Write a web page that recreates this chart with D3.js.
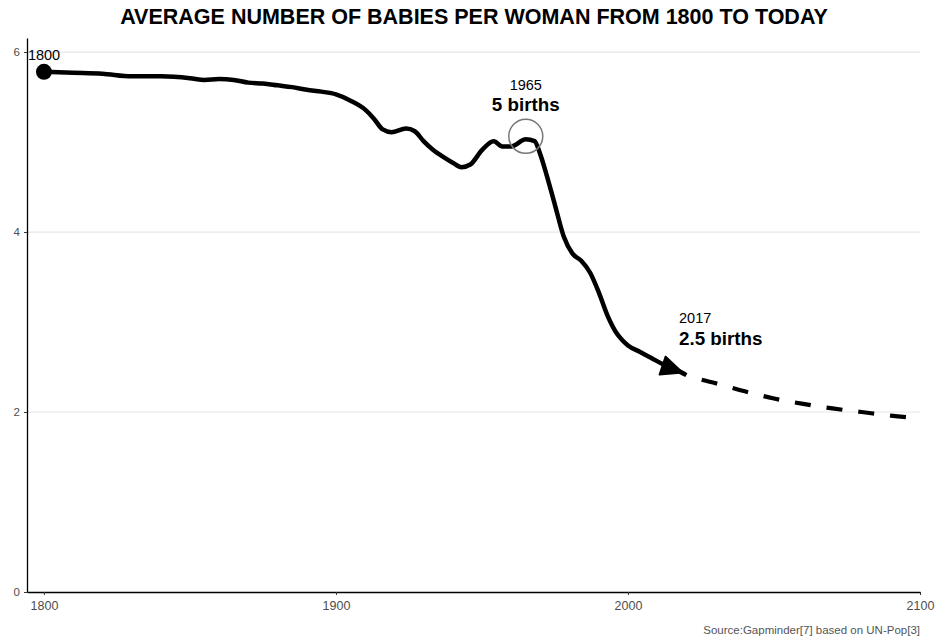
<!DOCTYPE html>
<html>
<head>
<meta charset="utf-8">
<script src="https://cdn.jsdelivr.net/npm/d3@7"></script>
<style>
  html, body { margin: 0; padding: 0; background: #fff; }
  svg { display: block; font-family: "Liberation Sans", Arial, sans-serif; }
</style>
</head>
<body>
<svg id="chart" width="946" height="639"></svg>
<script>
// ---- data ----
const histYears = [1800,1810,1820,1830,1840,1850,1855,1860,1865,1870,1875,1880,1885,1890,1895,1900,1905,1910,1913,1916,1919,1924,1927,1930,1933,1937,1940,1943,1946,1950,1954,1957,1960,1965,1968,1970,1972,1975,1978,1981,1984,1987,1990,1993,1996,1998,2000,2004,2008,2012,2017,2020];
const histValues = [5.78,5.77,5.76,5.73,5.73,5.71,5.69,5.70,5.69,5.66,5.65,5.63,5.61,5.58,5.56,5.53,5.46,5.36,5.26,5.14,5.11,5.15,5.12,5.01,4.92,4.83,4.77,4.72,4.75,4.91,5.01,4.95,4.95,5.03,5.01,4.86,4.65,4.30,3.95,3.76,3.68,3.55,3.33,3.07,2.88,2.80,2.74,2.67,2.60,2.53,2.46,2.41];
const projYears = [2020,2025,2030,2040,2050,2060,2070,2080,2090,2100];
const projValues = [2.41,2.36,2.32,2.23,2.15,2.09,2.04,2.00,1.96,1.93];
const xTicks = [1800,1900,2000,2100];
const yTicks = [0,2,4,6];
const titleText = "AVERAGE NUMBER OF BABIES PER WOMAN FROM 1800 TO TODAY";
const sourceText = "Source:Gapminder[7] based on UN-Pop[3]";
const notes = [
  {year: 1965, value: 5.03, top: "1965", bottom: "5 births"},
  {year: 2017, value: 2.46, top: "2017", bottom: "2.5 births"}
];

// ---- layout ----
const svg = d3.select("#chart");
const mLeft = 27, mRight = 920, mTop = 38, mBottom = 592;
const x = d3.scaleLinear().domain([1794.2, 2100]).range([mLeft, mRight]);
const y = d3.scaleLinear().domain([0, 6.156]).range([mBottom, mTop]);

// grid
svg.append("g").selectAll("line").data(yTicks.filter(d => d > 0)).join("line")
  .attr("x1", mLeft).attr("x2", mRight)
  .attr("y1", d => y(d)).attr("y2", d => y(d))
  .attr("stroke", "#e6e6e6").attr("stroke-width", 1.2);

// axes
const xAxis = svg.append("g").attr("transform", `translate(0,${mBottom})`)
  .call(d3.axisBottom(x).tickValues(xTicks).tickFormat(d3.format("d")).tickSize(3).tickSizeOuter(0));
const yAxis = svg.append("g").attr("transform", `translate(${mLeft},0)`)
  .call(d3.axisLeft(y).tickValues(yTicks).tickFormat(d3.format("d")).tickSize(3).tickSizeOuter(0));
[xAxis, yAxis].forEach(a => {
  a.select(".domain").attr("stroke", "#000").attr("stroke-width", 1.3);
  a.selectAll(".tick line").attr("stroke", "#333");
  a.selectAll(".tick text").attr("fill", "#4d4d4d").attr("font-size", 11.5)
    .attr("font-family", "Liberation Sans, Arial, sans-serif");
});
xAxis.selectAll(".tick text").attr("font-size", 12.5).attr("dy", "0.95em");
yAxis.selectAll(".tick text").attr("dx", "-1");

// lines
const line = d3.line().x(d => x(d[0])).y(d => y(d[1])).curve(d3.curveMonotoneX);
svg.append("path").datum(histYears.map((yr, i) => [yr, histValues[i]]))
  .attr("d", line).attr("fill", "none").attr("stroke", "#000")
  .attr("stroke-width", 4.5).attr("stroke-linejoin", "round");
svg.append("path").datum(projYears.map((yr, i) => [yr, projValues[i]]))
  .attr("d", line).attr("fill", "none").attr("stroke", "#000")
  .attr("stroke-width", 4.2).attr("stroke-dasharray", "16,16").attr("stroke-dashoffset", -16);

// arrowhead near 2017
{
  const ax = x(notes[1].year), ay = y(notes[1].value);
  svg.append("path")
    .attr("d", `M${ax-12},${ay-14} L${ax-18},${ay+4} L${ax+5},${ay+2} Z`)
    .attr("fill", "#000").attr("stroke", "#000").attr("stroke-width", 2).attr("stroke-linejoin", "round");
}

// start dot and label
svg.append("circle").attr("cx", x(histYears[0])).attr("cy", y(histValues[0])).attr("r", 8).attr("fill", "#000");
svg.append("text").attr("x", x(histYears[0]) - 16).attr("y", y(histValues[0]) - 12)
  .attr("font-size", 14.5).attr("fill", "#000").text(String(histYears[0]));

// 1965 circle
svg.append("circle").attr("cx", x(notes[0].year)).attr("cy", y(notes[0].value) - 3).attr("r", 17)
  .attr("fill", "none").attr("stroke", "#777").attr("stroke-width", 1.5);

// notes
svg.append("text").attr("x", x(1965)).attr("y", 90).attr("text-anchor", "middle")
  .attr("font-size", 14.5).text(notes[0].top);
svg.append("text").attr("x", x(1965)).attr("y", 111).attr("text-anchor", "middle")
  .attr("font-size", 18.8).attr("font-weight", "bold").text(notes[0].bottom);
svg.append("text").attr("x", 679).attr("y", 323)
  .attr("font-size", 14.5).text(notes[1].top);
svg.append("text").attr("x", 679).attr("y", 345)
  .attr("font-size", 18.8).attr("font-weight", "bold").text(notes[1].bottom);

// title
svg.append("text").attr("x", 474).attr("y", 24).attr("text-anchor", "middle")
  .attr("font-size", 21.5).attr("font-weight", "bold").attr("fill", "#000").text(titleText);

// source
svg.append("text").attr("x", 920).attr("y", 634).attr("text-anchor", "end")
  .attr("font-size", 11.5).attr("fill", "#555").text(sourceText);
</script>
</body>
</html>
